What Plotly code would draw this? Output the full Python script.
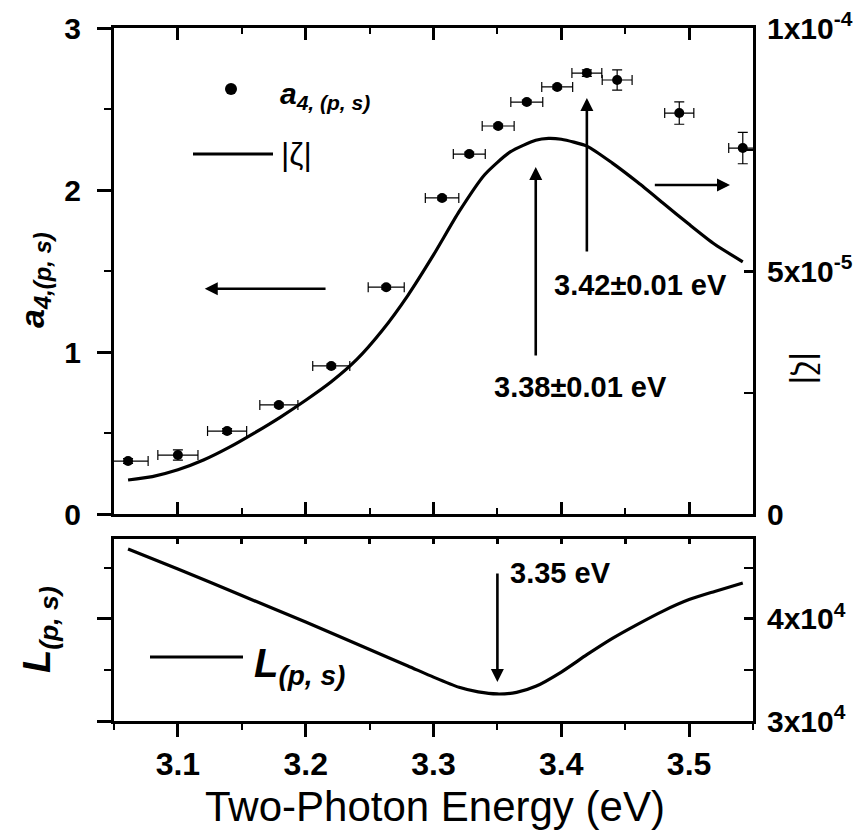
import plotly.graph_objects as go

W, H = 866, 831
FONT = "Liberation Sans, Arial, Helvetica, sans-serif"

# ---------------- data ----------------
# a_{4,(p,s)} measured points (left axis, top panel)
a4_energy = [3.061, 3.100, 3.1385, 3.179, 3.220, 3.263, 3.3067, 3.328, 3.3506, 3.373, 3.3968, 3.420, 3.4437, 3.4923, 3.542]
a4_values = [0.327, 0.364, 0.512, 0.673, 0.914, 1.40, 1.951, 2.222, 2.395, 2.543, 2.636, 2.722, 2.679, 2.475, 2.259]
a4_xerr = [0.0157, 0.0157, 0.0153, 0.0149, 0.0145, 0.0141, 0.0131, 0.0125, 0.0125, 0.0125, 0.0121, 0.0117, 0.0117, 0.0114, 0.011]
a4_yerr = [0.015, 0.032, 0.015, 0.012, 0.012, 0.012, 0.012, 0.012, 0.012, 0.012, 0.012, 0.02, 0.062, 0.069, 0.097]

# |zeta| curve (right axis, top panel)
zeta_energy = [3.061, 3.08, 3.10, 3.12, 3.14, 3.16, 3.18, 3.20, 3.22, 3.24, 3.26, 3.28, 3.30, 3.32, 3.34,
               3.36, 3.38, 3.39, 3.40, 3.42, 3.44, 3.46, 3.48, 3.50, 3.52, 3.542]
zeta_values = [0.70e-5, 0.77e-5, 0.91e-5, 1.11e-5, 1.37e-5, 1.67e-5, 1.99e-5, 2.34e-5, 2.72e-5, 3.18e-5,
               3.78e-5, 4.50e-5, 5.33e-5, 6.22e-5, 6.98e-5, 7.45e-5, 7.69e-5, 7.73e-5, 7.71e-5, 7.57e-5,
               7.22e-5, 6.82e-5, 6.39e-5, 5.96e-5, 5.55e-5, 5.19e-5]

# L_(p,s) curve (bottom panel)
L_energy = [3.061, 3.10, 3.15, 3.20, 3.25, 3.28, 3.30, 3.32, 3.335, 3.35, 3.365, 3.38, 3.40, 3.42, 3.44,
            3.46, 3.48, 3.50, 3.52, 3.542]
L_values = [4.686e4, 4.49e4, 4.23e4, 3.97e4, 3.70e4, 3.54e4, 3.43e4, 3.33e4, 3.285e4, 3.265e4, 3.28e4,
            3.34e4, 3.48e4, 3.65e4, 3.81e4, 3.95e4, 4.08e4, 4.19e4, 4.27e4, 4.353e4]

x_range = [3.05, 3.55]
a4_range = [0, 3]
zeta_range = [0, 1e-4]
L_range = [3e4, 4.784e4]

zeta_tickvals = [0, 5e-5, 1e-4]
zeta_ticktext = ["0", "5x10<sup>-5</sup>", "1x10<sup>-4</sup>"]
L_tickvals = [3e4, 4e4]
L_ticktext = ["3x10<sup>4</sup>", "4x10<sup>4</sup>"]


def px(x):
    return x / W


def py(y):
    return 1 - y / H


fig = go.Figure()

fig.add_trace(go.Scatter(
    x=a4_energy, y=a4_values, mode="markers", xaxis="x", yaxis="y",
    marker=dict(color="black", size=10),
    error_x=dict(type="data", array=a4_xerr, color="black", thickness=1.2, width=5),
    error_y=dict(type="data", array=a4_yerr, color="black", thickness=1.2, width=5),
    showlegend=False,
))
fig.add_trace(go.Scatter(
    x=zeta_energy, y=zeta_values, mode="lines", xaxis="x", yaxis="y2",
    line=dict(color="black", width=3.2, shape="spline", smoothing=0.6),
    showlegend=False,
))
fig.add_trace(go.Scatter(
    x=L_energy, y=L_values, mode="lines", xaxis="x2", yaxis="y3",
    line=dict(color="black", width=3.2, shape="spline", smoothing=0.6),
    showlegend=False,
))
# invisible trace so that the overlay axes get drawn
fig.add_trace(go.Scatter(x=[x_range[0]], y=[L_range[0]], xaxis="x3", yaxis="y4", mode="markers",
                         marker=dict(opacity=0), showlegend=False, hoverinfo="skip"))

xdom = [px(114), px(753)]
top_dom = [py(514), py(28)]
bot_dom = [py(721), py(539)]

tickfont = dict(family=FONT, size=30, color="black", weight="bold")
xtickfont = dict(family=FONT, size=32, color="black", weight="bold")
axis_common = dict(showline=True, linecolor="black", linewidth=3, showgrid=False, zeroline=False,
                   tickcolor="black", tickwidth=2.5, automargin=False)

fig.update_layout(
    width=W, height=H,
    margin=dict(l=0, r=0, t=0, b=0, autoexpand=False),
    paper_bgcolor="white", plot_bgcolor="white",
    showlegend=False,
    xaxis=dict(domain=xdom, anchor="y", range=x_range, dtick=0.1, tick0=3.1, ticks="inside",
               ticklen=12, mirror="ticks", showticklabels=False,
               minor=dict(dtick=0.05, tick0=3.05, ticks="inside", ticklen=6, tickcolor="black", tickwidth=2),
               **axis_common),
    yaxis=dict(domain=top_dom, anchor="x", range=a4_range, dtick=1, tick0=0, ticks="outside", ticklen=14,
               tickfont=tickfont, ticklabelstandoff=10,
               minor=dict(dtick=0.5, ticks="outside", ticklen=7, tickcolor="black", tickwidth=2),
               **axis_common),
    yaxis2=dict(anchor="x", overlaying="y", side="right", range=zeta_range,
                tickvals=zeta_tickvals, ticktext=zeta_ticktext, ticks="inside", ticklen=9,
                tickfont=tickfont, ticklabelstandoff=5,
                minor=dict(dtick=2.5e-5, tick0=0, ticks="inside", ticklen=9, tickcolor="black", tickwidth=2),
                **axis_common),
    xaxis2=dict(domain=xdom, anchor="y3", range=x_range, dtick=0.1, tick0=3.1, ticks="outside", ticklen=13,
                tickfont=xtickfont, ticklabelstandoff=0,
                minor=dict(dtick=0.05, tick0=3.05, ticks="outside", ticklen=6, tickcolor="black", tickwidth=2),
                **axis_common),
    xaxis3=dict(anchor="y4", overlaying="x2", side="top", range=x_range, dtick=0.05, tick0=3.05,
                ticks="inside", ticklen=5, showticklabels=False, **axis_common),
    yaxis3=dict(domain=bot_dom, anchor="x2", range=L_range, tickvals=L_tickvals, ticks="outside", ticklen=14,
                showticklabels=False,
                minor=dict(dtick=5e3, tick0=3e4, ticks="outside", ticklen=7, tickcolor="black", tickwidth=2),
                **axis_common),
    yaxis4=dict(anchor="x3", overlaying="y3", side="right", range=L_range,
                tickvals=L_tickvals, ticktext=L_ticktext, ticks="inside", ticklen=9,
                tickfont=tickfont, ticklabelstandoff=5,
                minor=dict(dtick=5e3, tick0=3e4, ticks="inside", ticklen=9, tickcolor="black", tickwidth=2),
                **axis_common),
)

ann = []
# axis titles
ann.append(dict(text="Two-Photon Energy (eV)", x=px(435), y=py(806), xref="paper", yref="paper",
                showarrow=False, font=dict(family=FONT, size=42, color="black"),
                xanchor="center", yanchor="middle"))
ann.append(dict(text="<b><i>a</i></b><sub><b><i>4,(p, s)</i></b></sub>", x=px(34), y=py(280),
                xref="paper", yref="paper", showarrow=False, textangle=-90,
                font=dict(family=FONT, size=34, color="black"), xanchor="center", yanchor="middle"))
ann.append(dict(text="<b><i>L</i></b><sub><b><i>(p, s)</i></b></sub>", x=px(40), y=py(630),
                xref="paper", yref="paper", showarrow=False, textangle=-90,
                font=dict(family=FONT, size=38, color="black"), xanchor="center", yanchor="middle"))
ann.append(dict(text="|ζ|", x=px(808), y=py(368), xref="paper", yref="paper", showarrow=False,
                textangle=90, font=dict(family=FONT, size=34, color="black"),
                xanchor="center", yanchor="middle"))

# legend texts
ann.append(dict(text="<b><i>a</i></b><sub><b><i>4, (p, s)</i></b></sub>", x=px(278), y=py(96),
                xref="paper", yref="paper", showarrow=False, xanchor="left", yanchor="middle",
                font=dict(family=FONT, size=30, color="black")))
ann.append(dict(text="|ζ|", x=px(279), y=py(154), xref="paper", yref="paper", showarrow=False,
                xanchor="left", yanchor="middle", font=dict(family=FONT, size=32, color="black")))
ann.append(dict(text="<b><i>L</i></b><sub><b><i>(p, s)</i></b></sub>", x=px(252), y=py(666),
                xref="paper", yref="paper", showarrow=False, xanchor="left", yanchor="middle",
                font=dict(family=FONT, size=40, color="black")))

# value labels
lab_font = dict(family=FONT, size=29, color="black", weight="bold")
ann.append(dict(text="3.42±0.01 eV", x=3.4618, y=1.414, xref="x", yref="y", showarrow=False,
                font=lab_font, xanchor="center", yanchor="middle"))
ann.append(dict(text="3.38±0.01 eV", x=3.4148, y=0.784, xref="x", yref="y", showarrow=False,
                font=lab_font, xanchor="center", yanchor="middle"))
ann.append(dict(text="3.35 eV", x=3.399, y=4.45e4, xref="x2", yref="y3", showarrow=False,
                font=lab_font, xanchor="center", yanchor="middle"))

# arrows
arrow_style = dict(text="", showarrow=True, arrowhead=2, arrowsize=1.0, arrowwidth=2.6,
                   arrowcolor="black", standoff=0)
ann.append(dict(x=3.42, y=2.568, ax=3.42, ay=1.611, xref="x", yref="y", axref="x", ayref="y", **arrow_style))
ann.append(dict(x=3.38, y=2.142, ax=3.38, ay=0.969, xref="x", yref="y", axref="x", ayref="y", **arrow_style))
ann.append(dict(x=3.121, y=1.39, ax=3.2167, ay=1.39, xref="x", yref="y", axref="x", ayref="y", **arrow_style))
ann.append(dict(x=3.532, y=2.031, ax=3.472, ay=2.031, xref="x", yref="y", axref="x", ayref="y", **arrow_style))
ann.append(dict(x=3.35, y=3.382e4, ax=3.35, ay=4.461e4, xref="x2", yref="y3", axref="x2", ayref="y3",
                **arrow_style))
fig.update_layout(annotations=ann)

# legend symbols
fig.add_shape(type="circle", xref="paper", yref="paper", x0=px(225), x1=px(237), y0=py(95), y1=py(83),
              fillcolor="black", line=dict(color="black", width=0))
fig.add_shape(type="line", xref="paper", yref="paper", x0=px(193), x1=px(273), y0=py(154), y1=py(154),
              line=dict(color="black", width=3))
fig.add_shape(type="line", xref="paper", yref="paper", x0=px(150), x1=px(243), y0=py(657), y1=py(657),
              line=dict(color="black", width=3))

fig.write_html("out.html")
